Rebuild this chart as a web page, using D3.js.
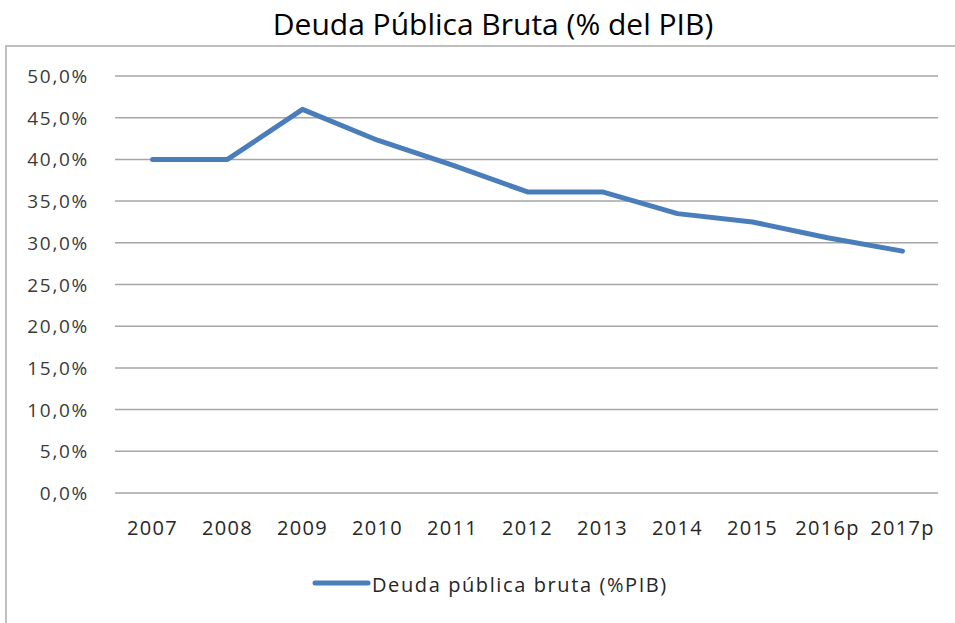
<!DOCTYPE html>
<html>
<head>
<meta charset="utf-8">
<script src="https://cdn.jsdelivr.net/npm/d3@7"></script>
<style>
  body { margin: 0; background: #fff; }
  svg { display: block; }
</style>
</head>
<body>
<svg></svg>
<script>
// data
var years = ["2007", "2008", "2009", "2010", "2011", "2012", "2013", "2014", "2015", "2016p", "2017p"];
var deuda = [40.0, 40.0, 46.0, 42.3, 39.3, 36.1, 36.1, 33.5, 32.5, 30.6, 29.0];
var yTicks = [0, 5, 10, 15, 20, 25, 30, 35, 40, 45, 50];
var title = "Deuda Pública Bruta (% del PIB)";
var seriesName = "Deuda pública bruta (%PIB)";

var width = 955;
var height = 623;
var plotLeft = 115, plotRight = 940, plotTop = 76, plotBottom = 493;

var svg = d3.select("svg")
    .attr("width", width)
    .attr("height", height);

// outer chart border (only top and left are visible)
svg.append("path")
    .attr("d", "M6,623 L6,46 L955,46")
    .attr("fill", "none")
    .attr("stroke", "#bfbfbf")
    .attr("stroke-width", 2);

svg.append("text")
    .attr("x", 493)
    .attr("y", 35)
    .style("text-anchor", "middle")
    .style("font-family", "'Open Sans'")
    .style("font-size", "30px")
    .attr("fill", "#000")
    .text(title);

var xScale = d3.scalePoint()
    .domain(years)
    .range([plotLeft, plotRight])
    .padding(0.5);

var yScale = d3.scaleLinear()
    .domain([0, 50])
    .range([plotBottom, plotTop]);

// gridlines
svg.append("g")
    .selectAll("line")
    .data(yTicks)
    .enter()
    .append("line")
        .attr("x1", plotLeft)
        .attr("x2", plotRight - 2)
        .attr("y1", d => yScale(d))
        .attr("y2", d => yScale(d))
        .attr("stroke", "#a6a6a6")
        .attr("stroke-width", 1.5);

var fmt = d => d.toFixed(1).replace(".", ",") + "%";

svg.append("g")
    .selectAll("text")
    .data(yTicks)
    .enter()
    .append("text")
        .attr("x", 89)
        .attr("y", d => yScale(d) + 7)
        .style("text-anchor", "end")
        .style("font-family", "'Open Sans'")
        .style("font-size", "19px")
        .style("letter-spacing", "1.7px")
        .attr("fill", "#3a3a3a")
        .text(fmt);

svg.append("g")
    .selectAll("text")
    .data(years)
    .enter()
    .append("text")
        .attr("x", d => xScale(d))
        .attr("y", 535)
        .style("text-anchor", "middle")
        .style("font-family", "'Open Sans'")
        .style("font-size", "20px")
        .style("letter-spacing", "1.3px")
        .attr("fill", "#262626")
        .text(d => d);

var line = d3.line()
    .x((d, i) => xScale(years[i]))
    .y(d => yScale(d));

svg.append("path")
    .datum(deuda)
    .attr("d", line)
    .attr("fill", "none")
    .attr("stroke", "#4a7ebb")
    .attr("stroke-width", 5)
    .attr("stroke-linecap", "round")
    .attr("stroke-linejoin", "round");

// legend
svg.append("line")
    .attr("x1", 315)
    .attr("x2", 368)
    .attr("y1", 583)
    .attr("y2", 583)
    .attr("stroke", "#4a7ebb")
    .attr("stroke-width", 5)
    .attr("stroke-linecap", "round");

svg.append("text")
    .attr("x", 372)
    .attr("y", 592)
    .style("font-family", "'Open Sans'")
    .style("font-size", "20px")
    .style("letter-spacing", "1.6px")
    .attr("fill", "#262626")
    .text(seriesName);
</script>
</body>
</html>
